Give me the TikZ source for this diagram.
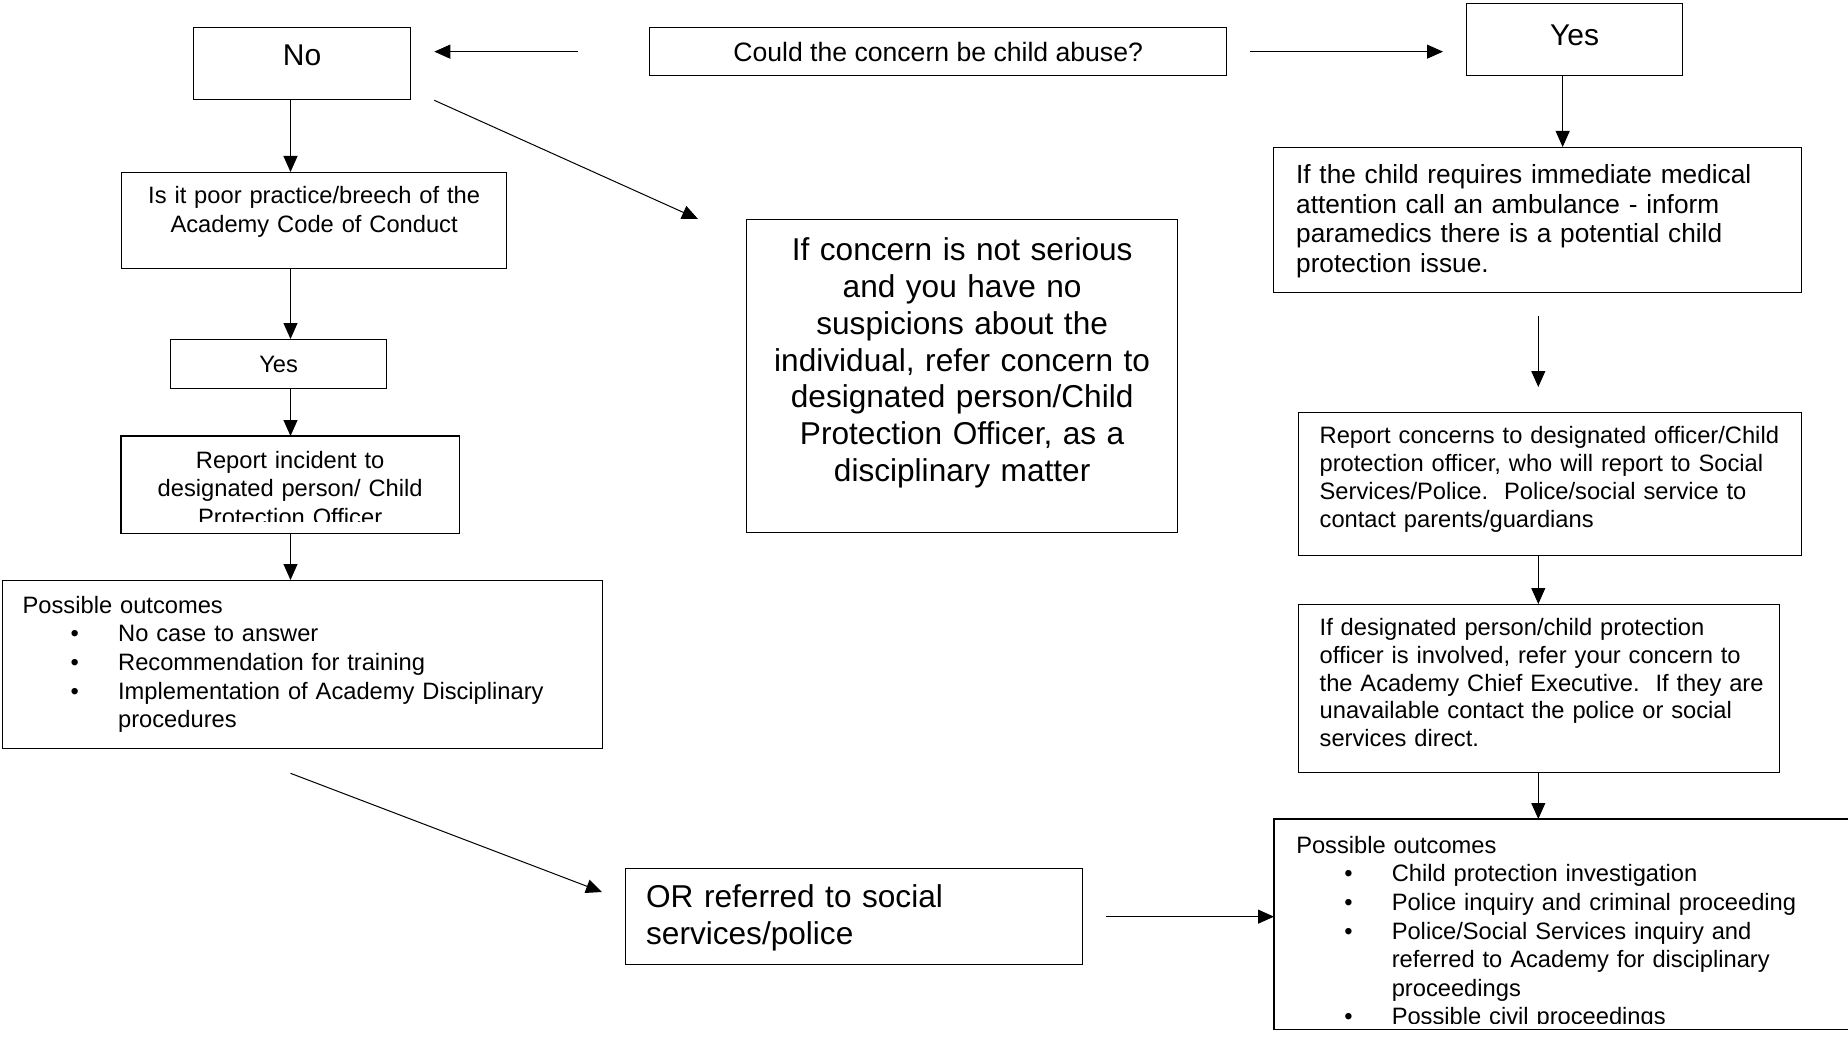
\documentclass[tikz,border=0pt]{standalone}
\usepackage{fontspec}
\setmainfont{Liberation Sans}
\usetikzlibrary{arrows.meta}
\newcommand{\outitem}{\hspace*{48pt}\makebox[47.5pt][l]{\textbullet}}
\newcommand{\outcont}{\hspace*{95.5pt}}

\begin{document}
\begin{tikzpicture}[
  x=1pt, y=-1pt,
  panel/.style={draw, line width=1.3pt, inner sep=0pt, anchor=north west,
    font=\fontsize{23.7}{28.6}\selectfont},
  lpad/.style={execute at begin node={\leftskip=#1\relax}},
  tight/.style={font=\fontsize{23.7}{27.75}\selectfont},
  midtext/.style={font=\fontsize{26.25}{29.4}\selectfont},
  bigtext/.style={font=\fontsize{31.6}{36.8}\selectfont},
  headtext/.style={font=\fontsize{30}{34}\selectfont},
  link/.style={-{Triangle[length=16pt,width=14pt]}, line width=1pt}
]
  \useasboundingbox (0,0) rectangle (1848,1038);
  \coordinate (lcol) at (290.5,0);
  \coordinate (rcol) at (1538.3,0);

  % question and the two answers
  \node[panel, font=\fontsize{26.6}{30}\selectfont, minimum width=577pt, text height=34pt, text depth=14pt]
    (could) at (649,27) {Could the concern be child abuse?};
  \node[panel, headtext, minimum width=217pt, text height=38pt, text depth=34pt]
    (no) at (193,27) {No};
  \node[panel, headtext, minimum width=216pt, text height=42pt, text depth=30pt]
    (yes) at (1466,3) {Yes};

  % left column
  \node[panel, text width=385pt, text height=31.3pt, text depth=64.7pt]
    (poor) at (121,172) {\centering Is it poor practice/breech of the\\Academy Code of Conduct\par};
  \node[panel, minimum width=216pt, text height=33pt, text depth=16pt]
    (yesl) at (170,339) {Yes};
  \begin{scope}
    \clip (121,436) rectangle (458,521.5);
    \node[panel, draw=none, text width=337pt, text height=31.7pt, text depth=64.3pt]
      (report) at (121,436) {\centering Report incident to\\designated person/ Child\\Protection Officer\par};
  \end{scope}
  \draw[line width=1.3pt] (report.north west) rectangle (report.south east);
  \node[panel, lpad=20pt, text width=600pt, text height=32.7pt, text depth=135.3pt]
    (outl) at (2,580) {Possible outcomes\\
      \outitem No case to answer\\
      \outitem Recommendation for training\\
      \outitem Implementation of Academy Disciplinary\\
      \outcont procedures};

  % middle
  \node[panel, bigtext, text width=431pt, text height=41pt, text depth=272pt]
    (serious) at (746,219) {\centering If concern is not serious\\and you have no\\suspicions about the\\individual, refer concern to\\designated person/Child\\Protection Officer, as a\\disciplinary matter\par};
  \node[panel, bigtext, lpad=20.5pt, text width=457pt, text height=38.7pt, text depth=57.3pt]
    (orref) at (625,868) {OR referred to social\\services/police};

  % right column
  \node[panel, midtext, lpad=22.5pt, text width=528pt, text height=36.3pt, text depth=108.7pt]
    (medical) at (1273,147) {If the child requires immediate medical\\attention call an ambulance - inform\\paramedics there is a potential child\\protection issue.};
  \node[panel, tight, lpad=21pt, text width=503pt, text height=31.3pt, text depth=111.7pt]
    (concerns) at (1298,412) {Report concerns to designated officer/Child\\protection officer, who will report to Social\\Services/Police.\ \ Police/social service to\\contact parents/guardians};
  \node[panel, tight, lpad=21pt, text width=481pt, text height=31pt, text depth=137pt]
    (designated) at (1298,604) {If designated person/child protection\\officer is involved, refer your concern to\\the Academy Chief Executive.\ \ If they are\\unavailable contact the police or social\\services direct.};
  \begin{scope}
    \clip (1274,819) rectangle (1870,1023.5);
    \node[panel, draw=none, lpad=21.6pt, text width=596pt, text height=33.7pt, text depth=175.3pt]
      (outr) at (1274,819) {Possible outcomes\\
        \outitem Child protection investigation\\
        \outitem Police inquiry and criminal proceeding\\
        \outitem Police/Social Services inquiry and\\
        \outcont referred to Academy for disciplinary\\
        \outcont proceedings\\
        \outitem Possible civil proceedings};
  \end{scope}
  \draw[line width=1.3pt] (outr.north west) rectangle (outr.south east);

  % connectors
  \draw[link] ([xshift=-71pt]could.west) -- ([xshift=23pt]no.east |- could.west);
  \draw[link] ([xshift=23pt]could.east) -- ([xshift=-23pt]yes.west |- could.east);
  \draw[link] ([xshift=23pt]no.south east) -- ([xshift=-48pt]serious.north west);
  \draw[link] (no.south -| lcol) -- (poor.north -| lcol);
  \draw[link] (poor.south -| lcol) -- (yesl.north -| lcol);
  \draw[link] (yesl.south -| lcol) -- (report.north -| lcol);
  \draw[link] (report.south -| lcol) -- (outl.north -| lcol);
  \draw[link] ([yshift=-24pt]outl.south -| lcol) -- ([shift={(-23pt,-24pt)}]orref.north west);
  \draw[link] ([xshift=23pt]orref.east) -- (orref.east -| outr.west);
  \draw[link] ([xshift=-12pt]yes.south) -- ([xshift=-12pt]yes.south |- medical.north);
  \draw[link] ([yshift=-23pt]medical.south -| rcol) -- ([yshift=25pt]concerns.north -| rcol);
  \draw[link] (concerns.south -| rcol) -- (designated.north -| rcol);
  \draw[link] (designated.south -| rcol) -- (outr.north -| rcol);
\end{tikzpicture}
\end{document}
